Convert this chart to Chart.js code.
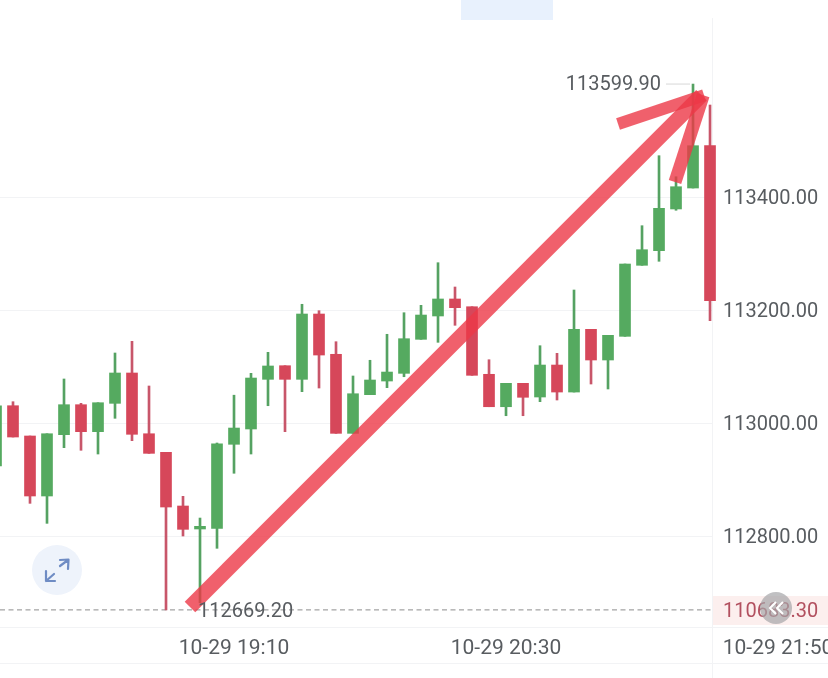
<!DOCTYPE html>
<html>
<head>
<meta charset="utf-8">
<script src="https://cdn.jsdelivr.net/npm/chart.js@4"></script>
<style>html,body{margin:0;padding:0;background:#fff}canvas{display:block}</style>
</head>
<body>
<canvas id="c" width="828" height="678"></canvas>
<script>
// Candle values (5-minute candles, first at 18:00)
const opens  = [112923.9,113030.6,112977,112870.8,112979.3,113032.4,112984.6,113034.8,113088.5,112981,112948.1,112853.1,112812.4,112813.6,112962.3,112989.4,113077.3,113101.4,113077.3,113192.9,113121.6,112981.7,113050.1,113074.3,113087.9,113148.1,113189.4,113219.5,113205.8,113086.2,113028.8,113070.2,113046,113102.6,113054.8,113165.8,113111.5,113153.4,113279.1,113305,113378.8,113415.9,113490.8];
const closes = [113030.6,112975.2,112870.8,112981,113032.4,112984.6,113035.9,113088.5,112980,112946.3,112851.3,112811.8,112817.1,112963.3,112991.1,113079.6,113100.9,113077.3,113192.9,113120.3,112981.7,113051.8,113076.1,113090.2,113149.2,113191.1,113219.5,113204.1,113084.4,113028.8,113070.2,113045.5,113102.6,113054.8,113165.8,113111.5,113155.2,113281.4,113306.7,113380,113418.2,113490.8,113216.5];
const highs  = [113030.6,113037.7,112977,112981,113077.9,113034.8,113035.9,113123.9,113144.6,113065.5,112948.1,112870.2,112831.8,112964.6,113049.2,113087.9,113125.1,113101.4,113210.1,113198.8,113143.9,113083.2,113111,113157,113195.2,113208.3,113283.7,113240.7,113205.8,113112,113070.2,113070.2,113136.8,113123.3,113235.4,113165.8,113155.2,113281.4,113349.2,113473.1,113435.9,113599.9,113562.8];
const lows   = [112923.9,112975.2,112857.8,112822.4,112956.3,112951.7,112945.1,113008.3,112968.7,112946.3,112669.2,112800,112681.9,112778.2,112911,112945.1,113030.6,112984.6,113055.4,113061.9,112981.7,112981.7,113050.1,113062.5,113081.9,113148.1,113142.8,113172.9,113084.4,113028.8,113012.9,113012.9,113037.7,113040.7,113054.8,113069,113060.2,113153.4,113279.1,113286.2,113376.5,113415.9,113181.1];

// Axis labels
const yTickValues = [112800,113000,113200,113400];
const xTickIndex  = [14,30,46];
const xTickLabels = ['10-29 19:10','10-29 20:30','10-29 21:50'];
const lowLabel = '112669.20', highLabel = '113599.90', priceTag = '110683.30';
const lowIndex = 12, highIndex = 41, highValue = 113599.9, lowValue = 112669.2;

// Hand-drawn arrow annotation, in data units (candle index, price)
const shaftX = [11.41,41.5], shaftY = [112674.3,113580];
const barbAX = [36.59,41.65], barbAY = [113529.2,113580];
const barbBX = [39.94,41.6], barbBY = [113426.5,113580];
// Dashed low line
const dashX = [0.2353,42.12], dashY = [112669.2,112669.2];

const RED='#d6475a', GREEN='#55aa60', REDW='#c8566a', GREENW='#55a262';
const idx = opens.map((_,i)=>i);
const isUp = idx.map(i=>closes[i]>=opens[i]);
const FONT = '20px Roboto', TXT='#585c60';
const zip=(a,b)=>a.map((v,i)=>({x:v,y:b[i]}));
const arrowDs=(xs,ys,w)=>({type:'line',data:zip(xs,ys),borderColor:'rgba(236,56,71,.8)',borderWidth:w,pointRadius:0,borderCapStyle:'butt',tension:0,order:1,clip:false});

const decor={
  id:'decor',
  beforeDatasetsDraw(ch){
    const {ctx,scales:{x,y}}=ch, edge=712;
    ctx.save();
    ctx.strokeStyle='#f2f3f5';ctx.lineWidth=1;
    yTickValues.forEach(v=>{const p=Math.round(y.getPixelForValue(v))+.5;ctx.beginPath();ctx.moveTo(0,p);ctx.lineTo(edge,p);ctx.stroke();});
    [627.5,663.5].forEach(p=>{ctx.beginPath();ctx.moveTo(0,p);ctx.lineTo(828,p);ctx.stroke();});
    ctx.beginPath();ctx.moveTo(712.5,18);ctx.lineTo(712.5,678);ctx.stroke();
    ctx.fillStyle='#e8f1fd';ctx.fillRect(461,0,92,20);
    ctx.fillStyle='#fcefee';ctx.fillRect(713,596,115,29);
    ctx.restore();
  },
  afterDatasetsDraw(ch){
    const {ctx,scales:{x,y}}=ch;
    ctx.save();
    ctx.font=FONT;ctx.textBaseline='middle';ctx.textAlign='left';
    // high label with leader line
    const hy=y.getPixelForValue(highValue);
    ctx.strokeStyle='#d8d8d8';ctx.lineWidth=1;ctx.beginPath();ctx.moveTo(666,hy);ctx.lineTo(x.getPixelForValue(highIndex)-3,hy);ctx.stroke();
    ctx.fillStyle=TXT;ctx.textAlign='right';ctx.fillText(highLabel,661,hy+1);
    // low label
    ctx.textAlign='left';ctx.fillText(lowLabel,x.getPixelForValue(lowIndex)-2,y.getPixelForValue(lowValue)+2);
    // price tag
    ctx.fillStyle='#b2505f';ctx.fillText(priceTag,723,y.getPixelForValue(lowValue)+2);
    // scroll-back button
    ctx.fillStyle='rgba(165,165,168,.7)';ctx.beginPath();ctx.arc(776,608,16,0,7);ctx.fill();
    ctx.strokeStyle='#fff';ctx.lineWidth=2;
    [[776,0],[783,0]].forEach(([bx])=>{ctx.beginPath();ctx.moveTo(bx,602);ctx.lineTo(bx-6,608);ctx.lineTo(bx,614);ctx.stroke();});
    // fullscreen button
    ctx.fillStyle='#eef3fb';ctx.beginPath();ctx.arc(57,570,25,0,7);ctx.fill();
    ctx.strokeStyle='#6f8cc4';ctx.lineWidth=2.2;ctx.lineCap='round';ctx.lineJoin='round';
    ctx.beginPath();ctx.moveTo(60,566);ctx.lineTo(68,560);ctx.moveTo(60,560);ctx.lineTo(68.5,559.5);ctx.lineTo(68,569);ctx.stroke();
    ctx.beginPath();ctx.moveTo(54,574);ctx.lineTo(46,581);ctx.moveTo(46,571);ctx.lineTo(46,581);ctx.lineTo(55,581);ctx.stroke();
    ctx.restore();
  }
};

new Chart(document.getElementById('c'),{
  type:'bar',
  plugins:[decor],
  data:{datasets:[
    arrowDs(shaftX,shaftY,15),
    arrowDs(barbAX,barbAY,12),
    arrowDs(barbBX,barbBY,13),
    {type:'line',data:zip(dashX,dashY),borderColor:'#8c8c8c',borderWidth:1,borderDash:[5,3.5],pointRadius:0,order:4},
    {data:idx.map(i=>({x:i,y:[Math.min(opens[i],closes[i]),Math.max(opens[i],closes[i])]})),
     backgroundColor:idx.map(i=>isUp[i]?GREEN:RED),barThickness:11,grouped:false,order:2},
    {data:idx.map(i=>({x:i,y:[lows[i],highs[i]]})),
     backgroundColor:idx.map(i=>isUp[i]?GREENW:REDW),barThickness:2,grouped:false,order:3}
  ]},
  options:{
    responsive:false,animation:false,
    layout:{padding:0},
    plugins:{legend:{display:false},tooltip:{enabled:false}},
    scales:{
      x:{type:'linear',position:'bottom',min:0.2353,max:48.94,offset:false,
        grid:{display:false,offset:false},border:{display:false},
        afterBuildTicks(s){s.ticks=xTickIndex.map(v=>({value:v}));},
        afterFit(s){s.height=51;s.paddingLeft=0;s.paddingRight=0;s._margins={left:0,right:0,top:0,bottom:0};},
        ticks:{autoSkip:false,maxRotation:0,padding:1,color:TXT,font:{family:'Roboto',size:21},
          callback(v){return xTickLabels[xTickIndex.indexOf(v)];}}},
      y:{type:'linear',position:'left',min:112638.94,max:113748.67,
        grid:{display:false},border:{display:false},
        afterBuildTicks(s){s.ticks=yTickValues.map(v=>({value:v}));},
        afterFit(s){s.width=0;s.paddingTop=0;s.paddingBottom=0;},
        ticks:{mirror:true,padding:723,labelOffset:2,color:TXT,font:{family:'Roboto',size:20},
          callback(v){return v.toFixed(2);}}}
    }
  }
});
</script>
</body>
</html>
